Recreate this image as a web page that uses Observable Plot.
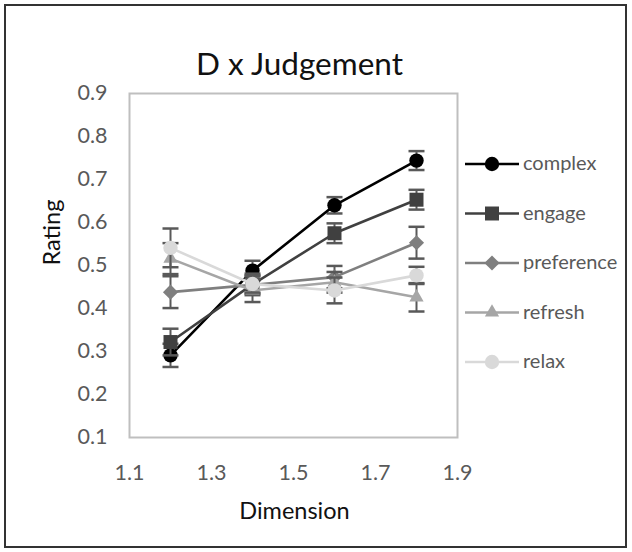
<!DOCTYPE html>
<html>
<head>
<meta charset="utf-8">
<script src="https://cdn.jsdelivr.net/npm/d3@7"></script>
<script src="https://cdn.jsdelivr.net/npm/@observablehq/plot@0.6"></script>
<style>
  html, body { margin: 0; padding: 0; background: #fff; }
  #wrap { position: relative; width: 632px; height: 552px; overflow: hidden; background: #fff; }
  #chart { position: absolute; left: 0; top: 0; }
  #legend { position: absolute; left: 460px; top: 140px; }
  #border { position: absolute; left: 4px; top: 4px; width: 623px; height: 544px; border: 2px solid #333; box-sizing: border-box; pointer-events: none; }
</style>
</head>
<body>
<div id="wrap">
  <div id="chart"></div>
  <div id="legend"></div>
  <div id="border"></div>
</div>
<script>
// ---- data ----
const title = "D x Judgement";
const xLabel = "Dimension";
const yLabel = "Rating";
const xValues = [1.2, 1.4, 1.6, 1.8];
const xTicks = [1.1, 1.3, 1.5, 1.7, 1.9];
const yTicks = [0.1, 0.2, 0.3, 0.4, 0.5, 0.6, 0.7, 0.8, 0.9];
const seriesNames = ["complex", "engage", "preference", "refresh", "relax"];

const complexVals    = [0.291, 0.488, 0.640, 0.744];
const engageVals     = [0.322, 0.456, 0.575, 0.653];
const preferenceVals = [0.438, 0.455, 0.473, 0.553];
const refreshVals    = [0.516, 0.442, 0.461, 0.426];
const relaxVals      = [0.541, 0.457, 0.442, 0.477];

const complexErr    = [0.027, 0.023, 0.019, 0.022];
const engageErr     = [0.031, 0.025, 0.023, 0.023];
const preferenceErr = [0.037, 0.020, 0.026, 0.037];
const refreshErr    = [0.036, 0.027, 0.024, 0.033];
const relaxErr      = [0.045, 0.020, 0.030, 0.020];

const seriesColors  = ["#000000", "#404040", "#7f7f7f", "#a6a6a6", "#d9d9d9"];
const seriesSymbols = ["circle", "square", "diamond2", "triangle2", "circle"];
const seriesR       = [7.2, 7.9, 6.8, 6.8, 7.2];

const valuesBySeries = [complexVals, engageVals, preferenceVals, refreshVals, relaxVals];
const errBySeries = [complexErr, engageErr, preferenceErr, refreshErr, relaxErr];

// tidy table
const table = seriesNames.map((name, i) =>
  xValues.map((x, j) => ({series: name, x, y: valuesBySeries[i][j], e: errBySeries[i][j]}))
);

const errColor = "#595959";
const cap = { draw(ctx) { ctx.moveTo(-8, 0); ctx.lineTo(8, 0); } };

const marks = [
  Plot.frame({stroke: "#bfbfbf", strokeWidth: 2}),
  Plot.axisX({ticks: xTicks, tickFormat: d3.format(".1f"), tickSize: 0, tickPadding: 27,
              fontSize: 21.5, fill: "#595959", label: null}),
  Plot.axisY({ticks: yTicks, tickFormat: d3.format(".1f"), tickSize: 0, tickPadding: 22,
              fontSize: 21.5, fill: "#595959", label: null}),
  Plot.text([title], {frameAnchor: "top", lineAnchor: "middle", dx: 6, dy: -28.8, fontSize: 31.5, fill: "#111"}),
  Plot.text([xLabel], {frameAnchor: "bottom", lineAnchor: "middle", dx: 1, dy: 73.8, fontSize: 23.5, fill: "#111"}),
  Plot.text([yLabel], {frameAnchor: "left", lineAnchor: "middle", dx: -77, rotate: -90, fontSize: 23.5, fill: "#111"})
];

table.forEach((rows, i) => {
  marks.push(
    Plot.ruleX(rows, {x: "x", y1: d => d.y - d.e, y2: d => d.y + d.e, stroke: errColor, strokeWidth: 2}),
    Plot.dot(rows, {x: "x", y: d => d.y + d.e, symbol: cap, r: 5, fill: "none", stroke: errColor, strokeWidth: 2.5}),
    Plot.dot(rows, {x: "x", y: d => d.y - d.e, symbol: cap, r: 5, fill: "none", stroke: errColor, strokeWidth: 2.5}),
    Plot.line(rows, {x: "x", y: "y", stroke: seriesColors[i], strokeWidth: 2.6}),
    Plot.dot(rows, {x: "x", y: "y", symbol: seriesSymbols[i], r: seriesR[i], fill: seriesColors[i], stroke: "none"})
  );
});

const chart = Plot.plot({
  width: 632,
  height: 552,
  marginLeft: 129,
  marginRight: 175,
  marginTop: 93,
  marginBottom: 115,
  x: {domain: [1.1, 1.9]},
  y: {domain: [0.1, 0.9]},
  style: {fontFamily: "Lato, 'Open Sans', sans-serif", background: "white", overflow: "visible"},
  marks
});
document.getElementById("chart").appendChild(chart);

// ---- legend ----
const legendY = [24, 73.5, 123, 172.5, 222];
const lsvg = d3.select("#legend").append("svg")
  .attr("width", 172).attr("height", 245)
  .style("font-family", "Lato, 'Open Sans', sans-serif");
seriesNames.forEach((name, i) => {
  const g = lsvg.append("g").attr("transform", `translate(0,${legendY[i]})`);
  g.append("line").attr("x1", 5).attr("x2", 59).attr("y1", 0).attr("y2", 0)
    .attr("stroke", seriesColors[i]).attr("stroke-width", 2.6);
  const sym = {circle: d3.symbolCircle, square: d3.symbolSquare, diamond2: d3.symbolDiamond2, triangle2: d3.symbolTriangle2}[seriesSymbols[i]];
  g.append("path").attr("transform", "translate(32,0)")
    .attr("d", d3.symbol(sym, Math.PI * seriesR[i] * seriesR[i])())
    .attr("fill", seriesColors[i]);
  g.append("text").attr("x", 63).attr("y", 0).attr("dy", "0.32em")
    .attr("font-size", 20).attr("fill", "#595959").text(name);
});
</script>
</body>
</html>
